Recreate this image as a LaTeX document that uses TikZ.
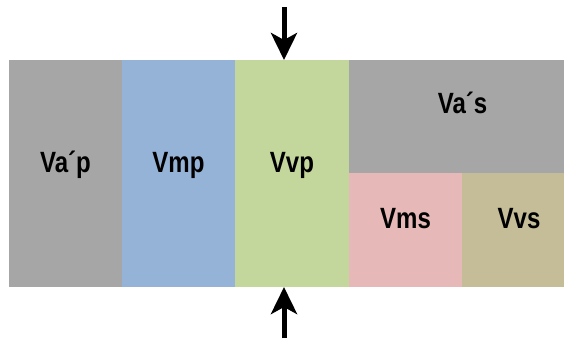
\documentclass[tikz,border=0pt]{standalone}
\usepackage{fontspec}
\setmainfont{Liberation Sans}
\newfontfamily\narrowbold[FakeStretch=0.82]{Liberation Sans Bold}
\usetikzlibrary{arrows.meta}
\definecolor{cgrey}{HTML}{A6A6A6}
\definecolor{cblue}{HTML}{95B3D7}
\definecolor{cgreen}{HTML}{C3D69B}
\definecolor{cpink}{HTML}{E6B9B8}
\definecolor{ctan}{HTML}{C4BD97}
\begin{document}
\begin{tikzpicture}[x=1pt,y=-1pt,
  block/.style={draw=none,inner sep=0pt,outer sep=0pt,anchor=north west},
  lbl/.style={anchor=base,inner sep=0pt,font=\narrowbold\fontsize{29.3}{32}\selectfont},
  push/.style={line width=5pt,-{Stealth[length=27pt,width=26pt,inset=7pt]}}]
\useasboundingbox (0,0) rectangle (564,338);
\begin{scope}
\clip (0,0) rectangle (564,338);
% columns of the primary side
\node[block,fill=cgrey,minimum width=113pt,minimum height=227pt] (ap) at (9,60) {};
\node[block,fill=cblue,minimum width=113pt,minimum height=227pt] (mp) at (122,60) {};
\node[block,fill=cgreen,minimum width=114pt,minimum height=227pt] (vp) at (235,60) {};
% secondary side: air on top, two blocks below
\node[block,fill=cgrey,minimum width=227pt,minimum height=113pt] (as) at (349,60) {};
\node[block,fill=cpink,minimum width=113pt,minimum height=114pt] (ms) at (349,173) {};
\node[block,fill=ctan,minimum width=114pt,minimum height=114pt] (vs) at (462,173) {};
\end{scope}
% labels
\node[lbl] (tap) at (65.5,172) {Va´p};
\node[lbl] (tmp) at (178.5,172) {Vmp};
\node[lbl] (tvp) at (292,172) {Vvp};
\node[lbl] (tas) at (462.5,113) {Va´s};
\node[lbl] (tms) at (405.5,228) {Vms};
\node[lbl] (tvs) at (519,228) {Vvs};
% load arrows
\coordinate (topstart) at (284,7);
\coordinate (topend) at (284,60);
\coordinate (botstart) at (284,338);
\coordinate (botend) at (284,287);
\draw[push] (topstart) -- (topend);
\draw[push] (botstart) -- (botend);
\end{tikzpicture}
\end{document}
